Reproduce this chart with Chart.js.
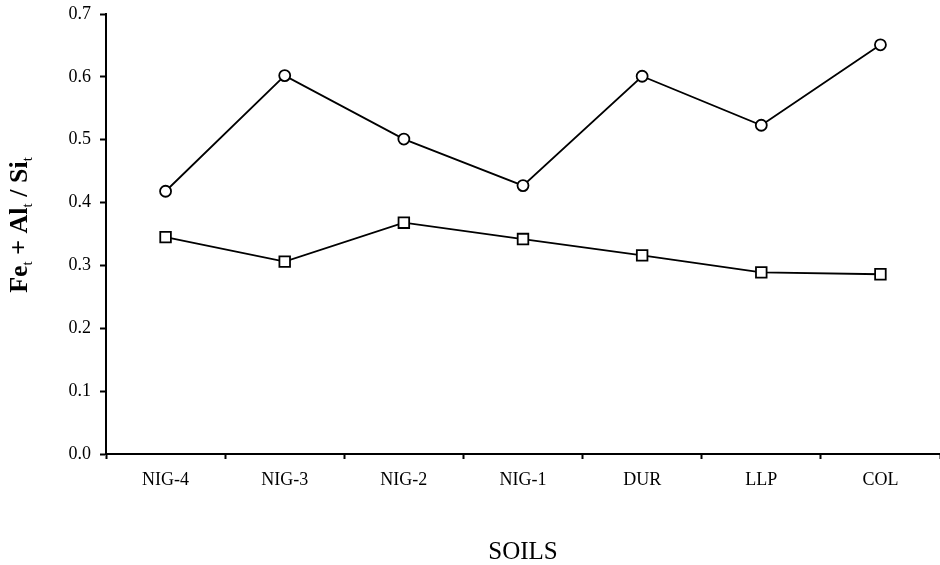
<!DOCTYPE html>
<html>
<head>
<meta charset="utf-8">
<script src="https://cdn.jsdelivr.net/npm/chart.js@4.4.1/dist/chart.umd.min.js"></script>
<style>
  html, body { margin: 0; padding: 0; background: #fff; }
  #wrap { width: 940px; height: 565px; }
</style>
</head>
<body>
<div id="wrap"><canvas id="soilChart"></canvas></div>
<script>
// values
const soils = ['NIG-4', 'NIG-3', 'NIG-2', 'NIG-1', 'DUR', 'LLP', 'COL'];
const circleSeries = [0.418, 0.602, 0.501, 0.427, 0.601, 0.523, 0.651];
const squareSeries = [0.345, 0.306, 0.368, 0.342, 0.316, 0.289, 0.286];
const yTicks = [0, 0.1, 0.2, 0.3, 0.4, 0.5, 0.6, 0.7];

const serif = '"Liberation Serif", "Times New Roman", serif';

// axis titles drawn by hand so the subscripts come out right
const titlesPlugin = {
    id: 'titles',
    afterDraw(chart) {
        const ctx = chart.ctx;
        const area = chart.chartArea;
        ctx.save();
        ctx.fillStyle = '#000';

        // x title
        ctx.font = '25px ' + serif;
        ctx.textAlign = 'center';
        ctx.textBaseline = 'alphabetic';
        ctx.fillText('SOILS', (area.left + area.right) / 2, 559);

        // y title: Fe_t + Al_t / Si_t
        const parts = [
            ['Fe', false], ['t', true], [' + Al', false], ['t', true], [' / Si', false], ['t', true]
        ];
        const big = 'bold 26px ' + serif;
        const small = '15px ' + serif;
        let total = 0;
        parts.forEach(p => { ctx.font = p[1] ? small : big; total += ctx.measureText(p[0]).width; });
        ctx.translate(27, 225);
        ctx.rotate(-Math.PI / 2);
        ctx.textAlign = 'left';
        let x = -total / 2;
        parts.forEach(p => {
            ctx.font = p[1] ? small : big;
            ctx.fillText(p[0], x, p[1] ? 5 : 0);
            x += ctx.measureText(p[0]).width;
        });
        ctx.restore();
    }
};

// keep label overflow from shrinking the plot area
function noPadding(scale) {
    scale.paddingLeft = 0;
    scale.paddingRight = 0;
    scale.paddingTop = 0;
    scale.paddingBottom = 0;
}

const ctx = document.getElementById('soilChart').getContext('2d');
const chart = new Chart(ctx, {
    type: 'line',
    data: {
        labels: soils,
        datasets: [{
            label: 'circles',
            data: circleSeries,
            borderColor: '#000',
            borderWidth: 1.8,
            backgroundColor: '#fff',
            pointStyle: 'circle',
            pointRadius: 5.5,
            pointBorderWidth: 1.8,
            pointBackgroundColor: '#fff',
            pointBorderColor: '#000',
            tension: 0
        }, {
            label: 'squares',
            data: squareSeries,
            borderColor: '#000',
            borderWidth: 1.8,
            backgroundColor: '#fff',
            pointStyle: 'rect',
            pointRadius: 7.5,
            pointBorderWidth: 1.8,
            pointBackgroundColor: '#fff',
            pointBorderColor: '#000',
            tension: 0
        }]
    },
    options: {
        responsive: true,
        maintainAspectRatio: false,
        animation: false,
        layout: { autoPadding: false, padding: { top: 14, right: 0, left: 0, bottom: 0 } },
        plugins: {
            legend: { display: false },
            tooltip: { enabled: false }
        },
        scales: {
            x: {
                type: 'category',
                offset: true,
                grid: {
                    offset: true,
                    drawOnChartArea: false,
                    drawTicks: true,
                    tickLength: 5,
                    tickWidth: 2,
                    color: '#000'
                },
                border: { display: true, color: '#000', width: 2 },
                ticks: {
                    color: '#000',
                    font: { family: serif, size: 18 },
                    padding: 10,
                    maxRotation: 0
                },
                afterFit(scale) { scale.height = 111; noPadding(scale); }
            },
            y: {
                min: 0,
                max: 0.7,
                afterBuildTicks(scale) {
                    scale.ticks = yTicks.map(v => ({ value: v }));
                },
                grid: {
                    drawOnChartArea: false,
                    drawTicks: true,
                    tickLength: 6,
                    tickWidth: 2,
                    color: '#000'
                },
                border: { display: true, color: '#000', width: 2 },
                ticks: {
                    color: '#000',
                    font: { family: serif, size: 18 },
                    padding: 9,
                    callback: v => Number(v).toFixed(1)
                },
                afterFit(scale) { scale.width = 106; noPadding(scale); }
            }
        }
    },
    plugins: [titlesPlugin]
});
</script>
</body>
</html>
